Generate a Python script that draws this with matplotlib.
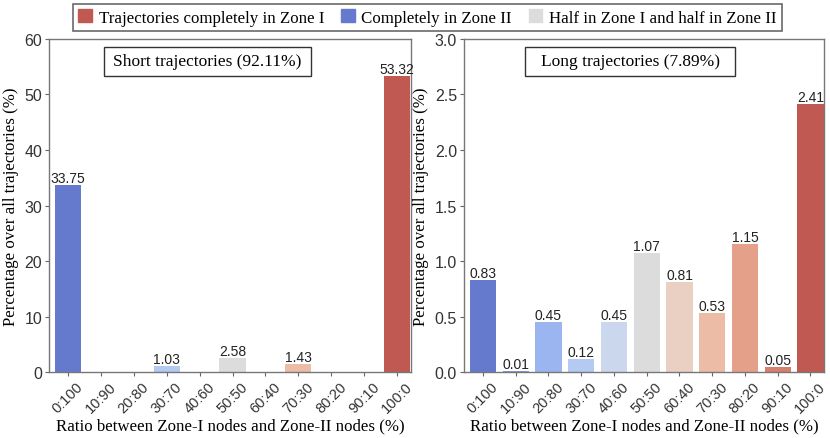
import numpy as np
import seaborn as sns
from matplotlib import pyplot as plt
from matplotlib.patches import Patch, Rectangle

ratios = ['0:100', '10:90', '20:80', '30:70', '40:60', '50:50',
          '60:40', '70:30', '80:20', '90:10', '100:0']
short_vals = [33.75, 0, 0, 1.03, 0, 2.58, 0, 1.43, 0, 0, 53.32]
long_vals = [0.83, 0.01, 0.45, 0.12, 0.45, 1.07, 0.81, 0.53, 1.15, 0.05, 2.41]
short_title = 'Short trajectories (92.11%)'
long_title = 'Long trajectories (7.89%)'
legend_labels = ['Trajectories completely in Zone I', 'Completely in Zone II',
                 'Half in Zone I and half in Zone II']

# seaborn barplot look: coolwarm palette, saturation 0.75
colors = [sns.desaturate(c, 0.75) for c in sns.color_palette('coolwarm', len(ratios))]
serif = ['Liberation Serif', 'DejaVu Serif']
sans = ['Liberation Sans', 'DejaVu Sans']
plt.rcParams['font.family'] = sans

fig = plt.figure(figsize=(8.3, 4.39), dpi=100)
ax1 = fig.add_axes([0.059, 0.150, 0.436, 0.759])
ax2 = fig.add_axes([0.559, 0.150, 0.434, 0.759])


def draw(ax, vals, ymax, yticks, title, box_x, skip_zero):
    x = np.arange(len(vals))
    bars = ax.bar(x, vals, width=0.8, color=colors)
    for b, v in zip(bars, vals):
        if skip_zero and v == 0:
            continue
        ax.text(b.get_x() + b.get_width() / 2, v, f'{v:.2f}', ha='center',
                va='bottom', fontsize=10, color='#222222')
    ax.set_xlim(-0.58, 10.42)
    ax.set_ylim(0, ymax)
    ax.set_yticks(yticks)
    ax.set_xticks(x)
    ax.set_xticklabels(ratios, rotation=45, ha='center', fontsize=10.5, color='#333333')
    for lab in ax.get_yticklabels():
        lab.set_fontsize(11.5)
        lab.set_color('#333333')
    ax.tick_params(axis='both', length=3, width=0.8, color='#666666', pad=2)
    for s in ax.spines.values():
        s.set_color('#777777')
        s.set_linewidth(1.0)
    ax.set_xlabel('Ratio between Zone-I nodes and Zone-II nodes (%)',
                  family=serif, fontsize=12.2, labelpad=2)
    ax.set_ylabel('Percentage over all trajectories (%)', family=serif,
                  fontsize=12.2, labelpad=4)
    x0, x1 = box_x
    ax.add_patch(Rectangle((x0, 0.889), x1 - x0, 0.087, transform=ax.transAxes,
                           fc='white', ec='#333333', lw=1.0, zorder=5))
    ax.text((x0 + x1) / 2, 0.9325, title, transform=ax.transAxes, ha='center',
            va='center', family=serif, fontsize=12.5, zorder=6)


draw(ax1, short_vals, 60, [0, 10, 20, 30, 40, 50, 60], short_title, (0.152, 0.724), True)
draw(ax2, long_vals, 3.0, [0.0, 0.5, 1.0, 1.5, 2.0, 2.5, 3.0], long_title, (0.169, 0.753), False)
ax2.set_yticklabels(['0.0', '0.5', '1.0', '1.5', '2.0', '2.5', '3.0'])

handles = [Patch(color=colors[10]), Patch(color=colors[0]), Patch(color=colors[5])]
leg = fig.legend(handles, legend_labels, loc='upper center', bbox_to_anchor=(0.515, 1.0),
                 ncol=3, frameon=True, fancybox=False, prop={'family': serif, 'size': 12.2},
                 handlelength=0.8, handleheight=0.8, handletextpad=0.4,
                 columnspacing=1.0, borderpad=0.3, borderaxespad=0.3)
leg.get_frame().set_edgecolor('#444444')
leg.get_frame().set_linewidth(1.2)

plt.savefig('out.png', dpi=100)
